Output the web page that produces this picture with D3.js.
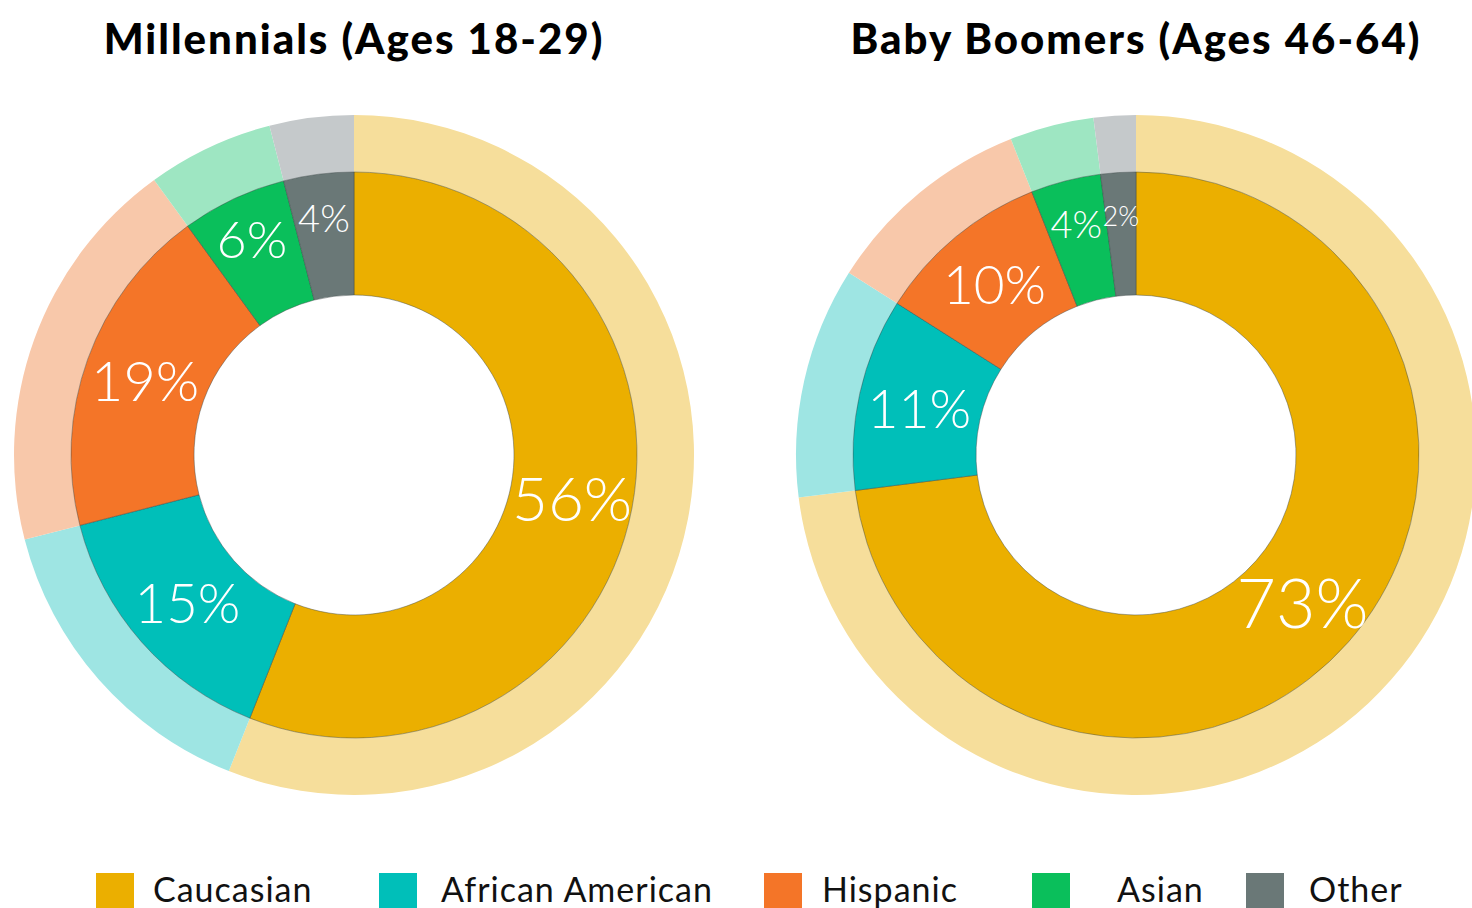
<!DOCTYPE html>
<html>
<head>
<meta charset="utf-8">
<script src="https://cdn.jsdelivr.net/npm/d3@7"></script>
<style>
  html, body { margin: 0; padding: 0; background: #fff; overflow: hidden; }
  .title { font-family: Lato, "Open Sans", sans-serif; font-weight: 900; fill: #000; letter-spacing: 2px; }
  .pct { font-family: Lato, "Open Sans", sans-serif; font-weight: 300; fill: #fff; }
  .legend text { font-family: Lato, "Open Sans", sans-serif; font-weight: 400; fill: #111; letter-spacing: 1px; }
</style>
</head>
<body>
<div id="chart"></div>
<script>
'use strict'

// Data.
const categories = ['Caucasian', 'African American', 'Hispanic', 'Asian', 'Other'];
const titles = ['Millennials (Ages 18-29)', 'Baby Boomers (Ages 46-64)'];
const millennials = [56, 15, 19, 6, 4];
const boomers = [73, 11, 10, 4, 2];

const colors = ['#ebaf00', '#00bfb9', '#f47528', '#0abf5b', '#6a7877'];
const lightColors = ['#f6de9b', '#9ee5e3', '#f8c8aa', '#9ee6c2', '#c5c9cb'];

let width = 1472,
    height = 908;

let svg = d3.select('#chart')
    .append('svg')
        .attr('width', width)
        .attr('height', height);

let color = d3.scaleOrdinal().domain(categories).range(colors);
let light = d3.scaleOrdinal().domain(categories).range(lightColors);

// Label size grows with the slice.
let fontSize = d3.scaleLinear()
    .domain([2, 4, 6, 20, 56, 73])
    .range([27, 38, 52, 56, 62, 68])
    .clamp(true);

// Small slices get their label pushed out a bit.
let labelRadius = d3.scaleThreshold()
    .domain([8])
    .range([240, 222]);

let pie = d3.pie().sort(null).value(d => d.value);

let innerArc = d3.arc().innerRadius(160).outerRadius(283);
let outerArc = d3.arc().innerRadius(283).outerRadius(340);

function donut(values, title, cx) {
    let data = pie(categories.map((c, i) => ({ category: c, value: values[i] })));

    svg.append('text')
        .attr('class', 'title')
        .attr('x', cx)
        .attr('y', 54)
        .attr('text-anchor', 'middle')
        .style('font-size', '42px')
        .text(title);

    let g = svg.append('g')
        .attr('transform', `translate(${cx}, 455)`);

    // Light outer ring.
    g.selectAll('path.outer')
        .data(data)
        .join('path')
            .attr('class', 'outer')
            .attr('d', outerArc)
            .attr('fill', d => light(d.data.category));

    // Main donut.
    g.selectAll('path.inner')
        .data(data)
        .join('path')
            .attr('class', 'inner')
            .attr('d', innerArc)
            .attr('fill', d => color(d.data.category))
            .attr('stroke', '#3f4a4a')
            .attr('stroke-opacity', 0.45)
            .attr('stroke-width', 1);

    g.selectAll('text.pct')
        .data(data)
        .join('text')
            .attr('class', 'pct')
            .attr('transform', d => {
                let r = labelRadius(d.data.value);
                let pos = d3.arc().innerRadius(r).outerRadius(r).centroid(d);
                return `translate(${pos})`;
            })
            .attr('text-anchor', 'middle')
            .attr('dominant-baseline', 'central')
            .style('font-size', d => fontSize(d.data.value) + 'px')
            .text(d => d.data.value + '%');
}

donut(millennials, titles[0], 354);
donut(boomers, titles[1], 1136);

// Legend.
let legendX = [96, 379, 764, 1032, 1246];
let legendGap = [57, 62, 58, 85, 63];

let legend = svg.append('g')
    .attr('class', 'legend')
    .selectAll('g')
    .data(categories)
    .join('g')
        .attr('transform', (d, i) => `translate(${legendX[i]}, 873)`);

legend.append('rect')
    .attr('width', 38)
    .attr('height', 38)
    .attr('fill', d => color(d));

legend.append('text')
    .attr('x', (d, i) => legendGap[i])
    .attr('y', 29)
    .style('font-size', '34px')
    .text(d => d);
</script>
</body>
</html>
